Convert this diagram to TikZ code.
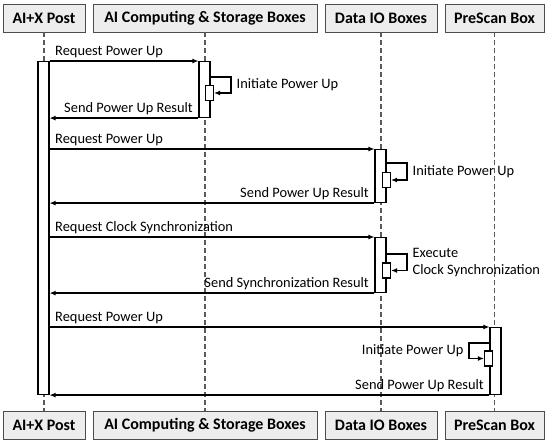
\documentclass[tikz,border=0pt]{standalone}
\usepackage{fontspec}
\setmainfont{Carlito}
\usetikzlibrary{arrows.meta}

\begin{document}
\begin{tikzpicture}[x=1pt, y=-1pt, font=\fontsize{14.4}{17}\selectfont, >={Latex[length=6pt,width=5pt]},
  hd/.style={draw=black!70, fill=black!7, line width=0.9pt, minimum height=28pt, inner sep=0pt, font=\bfseries\fontsize{16}{18}\selectfont},
  act/.style={draw, fill=white, line width=1.1pt, minimum width=11pt, inner sep=0pt, anchor=north},
  sub/.style={draw, fill=white, line width=1.1pt, minimum width=8pt, minimum height=15pt, inner sep=0pt},
  life/.style={black!65, line width=1.1pt, dash pattern=on 5pt off 3pt},
  msg/.style={->, line width=1.3pt},
  lbl/.style={inner xsep=5pt, inner ysep=3pt}]
\useasboundingbox (0,0) rectangle (550,444);
\node[hd, minimum width=82pt] (post) at (44,18) {AI+X Post};
\node[hd, minimum width=224pt] (comp) at (205,18) {AI Computing \& Storage Boxes};
\node[hd, minimum width=112pt] (dio) at (381,18) {Data IO Boxes};
\node[hd, minimum width=99pt] (scan) at (494.5,18) {PreScan Box};
\node[hd, minimum width=82pt] (post2) at (44,425.5) {AI+X Post};
\node[hd, minimum width=224pt] (comp2) at (205,425.5) {AI Computing \& Storage Boxes};
\node[hd, minimum width=112pt] (dio2) at (381,425.5) {Data IO Boxes};
\node[hd, minimum width=99pt] (scan2) at (494.5,425.5) {PreScan Box};
\draw[life] (post) -- (post2); \draw[life] (comp) -- (comp2); \draw[life] (dio) -- (dio2); \draw[life] (scan) -- (scan2);
\node[act, minimum height=333pt] (ap) at (43.5,61) {};
\node[act, minimum height=56pt] (ac) at (204.5,61) {};
\node[act, minimum height=53pt] (ad1) at (380.5,149) {};
\node[act, minimum height=55pt] (ad2) at (380.5,237) {};
\node[act, minimum height=67pt] (as) at (495.5,327) {};
\node[sub] (sc) at (209.5,93) {};
\node[sub] (sd1) at (386.5,180) {};
\node[sub] (sd2) at (386.5,270.5) {};
\node[sub] (ss) at (488.5,358.5) {};
\coordinate (lc) at (231,77);
\coordinate (ld1) at (407,163);
\coordinate (ld2) at (407,254);
\coordinate (ls) at (469,343);
\draw[msg] (ap.north east) -- node[lbl, pos=0, above right]{Request Power Up} (ac.north west);
\draw[msg] (ac.east |- lc) -- (lc) |- node[lbl, pos=0.25, right]{Initiate Power Up} (sc.east);
\draw[msg] (ac.south west) -- node[lbl, pos=0, above left]{Send Power Up Result} (ap.east |- ac.south);
\draw[msg] (ap.east |- ad1.north) -- node[lbl, pos=0, above right]{Request Power Up} (ad1.north west);
\draw[msg] (ad1.east |- ld1) -- (ld1) |- node[lbl, pos=0.25, right]{Initiate Power Up} (sd1.east);
\draw[msg] (ad1.south west) -- node[lbl, pos=0, above left]{Send Power Up Result} (ap.east |- ad1.south);
\draw[msg] (ap.east |- ad2.north) -- node[lbl, pos=0, above right]{Request Clock Synchronization} (ad2.north west);
\draw[msg] (ad2.east |- ld2) -- (ld2) |- node[lbl, pos=0.25, right, align=left]{Execute\\Clock Synchronization} (sd2.east);
\draw[msg] (ad2.south west) -- node[lbl, pos=0, above left]{Send Synchronization Result} (ap.east |- ad2.south);
\draw[msg] (ap.east |- as.north) -- node[lbl, pos=0, above right]{Request Power Up} (as.north west);
\draw[msg] (as.west |- ls) -- (ls) |- node[lbl, pos=0.25, left]{Initiate Power Up} (ss.west);
\draw[msg] (as.south west) -- node[lbl, pos=0, above left]{Send Power Up Result} (ap.east |- as.south);
\end{tikzpicture}
\end{document}
